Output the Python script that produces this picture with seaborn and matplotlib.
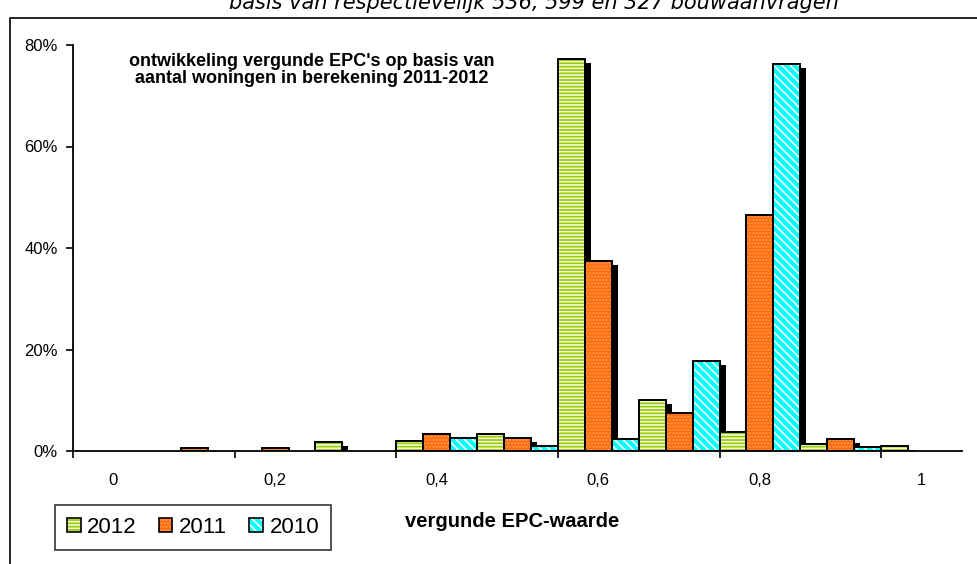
import matplotlib
matplotlib.use('Agg')
import matplotlib.pyplot as plt
import pandas as pd
import seaborn as sns
from matplotlib.patches import Rectangle, Patch
from matplotlib.transforms import offset_copy
from matplotlib.ticker import FuncFormatter, FixedLocator

# data (percentages)
epc = ['0', '0,1', '0,2', '0,3', '0,4', '0,5', '0,6', '0,7', '0,8', '0,9', '1']
years = ['2012', '2011', '2010']
v2012 = [0, 0, 0, 1.7, 2.0, 3.3, 77.3, 10.0, 3.7, 1.3, 1.0]
v2011 = [0, 0.65, 0.65, 0, 3.3, 2.6, 37.5, 7.4, 46.6, 2.4, 0]
v2010 = [0, 0, 0, 0, 2.6, 1.0, 2.3, 17.7, 76.2, 0.7, 0]

face = {'2012': '#99CC00', '2011': '#FF6600', '2010': '#00FFFF'}
hatch = {'2012': '-----', '2011': '.....', '2010': '\\\\\\\\'}
hatch_col = {'2012': '#F4FBDC', '2011': '#FFA060', '2010': '#FFFFFF'}

df = pd.DataFrame({
    'epc': epc * 3,
    'year': [y for y in years for _ in epc],
    'value': v2012 + v2011 + v2010,
})

W, H = 978, 564
fig = plt.figure(figsize=(W / 100, H / 100), dpi=100)
ax = fig.add_axes([73 / W, 1 - 451 / H, (962 - 73) / W, (451 - 45) / H])

sns.barplot(data=df, x='epc', y='value', hue='year', order=epc,
            hue_order=years, palette=face, width=1, dodge=True,
            linewidth=0, saturation=1, legend=False, ax=ax)

plt.rcParams['hatch.linewidth'] = 1.2
shadow_tr = offset_copy(ax.transData, fig=fig, x=6, y=-4, units='dots')
for year, cont in zip(years, ax.containers):
    for bar in cont:
        xy, w, h = bar.get_xy(), bar.get_width(), bar.get_height()
        bar.set_zorder(2)
        if h <= 0:
            continue
        ax.add_patch(Rectangle(xy, w, h, facecolor='black', lw=0,
                               transform=shadow_tr, zorder=1.5))
        ax.add_patch(Rectangle(xy, w, h, facecolor='none',
                               edgecolor=hatch_col[year], hatch=hatch[year],
                               lw=0, zorder=2.1))
        ax.add_patch(Rectangle(xy, w, h, fill=False, edgecolor='black',
                               lw=1.4, zorder=2.2))

ax.set_xlim(-0.5, len(epc) - 0.5)
ax.set_ylim(0, 80)
ax.set_facecolor('none')
for s in ['top', 'right']:
    ax.spines[s].set_visible(False)
for s in ['left', 'bottom']:
    ax.spines[s].set_linewidth(1.3)
    ax.spines[s].set_color('black')

ax.set_yticks([0, 20, 40, 60, 80])
ax.yaxis.set_major_formatter(FuncFormatter(lambda v, p: f'{v:.0f}%'))
ax.tick_params(axis='y', direction='out', length=5, width=1.2, pad=6,
               labelsize=12, color='black')

# tick marks between every second group, labels on every second group
ax.xaxis.set_major_locator(FixedLocator([i - 0.5 for i in range(0, len(epc), 2)]))
ax.xaxis.set_minor_locator(FixedLocator(list(range(0, len(epc), 2))))
ax.set_xticklabels([], minor=False)
ax.set_xticklabels([epc[i] for i in range(0, len(epc), 2)], minor=True)
ax.tick_params(axis='x', which='major', direction='out', length=5, width=1.2)
ax.tick_params(axis='x', which='minor', length=0, pad=16, labelsize=12)
ax.set_xlabel('vergunde EPC-waarde', fontsize=14.5, fontweight='bold')
ax.xaxis.set_label_coords((512 - 73) / (962 - 73), -0.15)
ax.set_ylabel('')

for lab in ax.get_xticklabels(minor=True) + ax.get_yticklabels():
    lab.set_family('Liberation Sans')
ax.xaxis.label.set_family('Liberation Sans')

fig.text(312 / W, 1 - 70 / H,
         "ontwikkeling vergunde EPC's op basis van\naantal woningen in berekening 2011-2012",
         ha='center', va='center', fontsize=13, fontweight='bold',
         family='Liberation Sans', linespacing=1.0)

fig.text(534 / W, 1 - 9 / H,
         'basis van respectievelijk 536, 599 en 327 bouwaanvragen',
         ha='center', va='baseline', fontsize=15, style='italic',
         family='DejaVu Sans')

# outer chart border
fig.patches.append(Rectangle((10 / W, -0.1), 1.1, (H - 18) / H + 0.1,
                             transform=fig.transFigure, fill=False,
                             edgecolor='black', lw=1.2))

handles = [(Patch(facecolor=face[y], edgecolor=hatch_col[y], hatch=hatch[y], lw=0),
            Patch(fill=False, edgecolor='black', lw=1.2)) for y in years]
leg = fig.legend(handles, years, loc='upper left',
                 bbox_to_anchor=(55 / W, 1 - 505 / H), ncol=3,
                 prop={'family': 'Liberation Sans', 'size': 16},
                 frameon=True, fancybox=False, edgecolor='black',
                 handlelength=0.6, handleheight=0.6, handletextpad=0.3,
                 columnspacing=1.0, borderpad=0.55, borderaxespad=0)
leg.get_frame().set_linewidth(1.2)

fig.savefig('out.png', dpi=100)
